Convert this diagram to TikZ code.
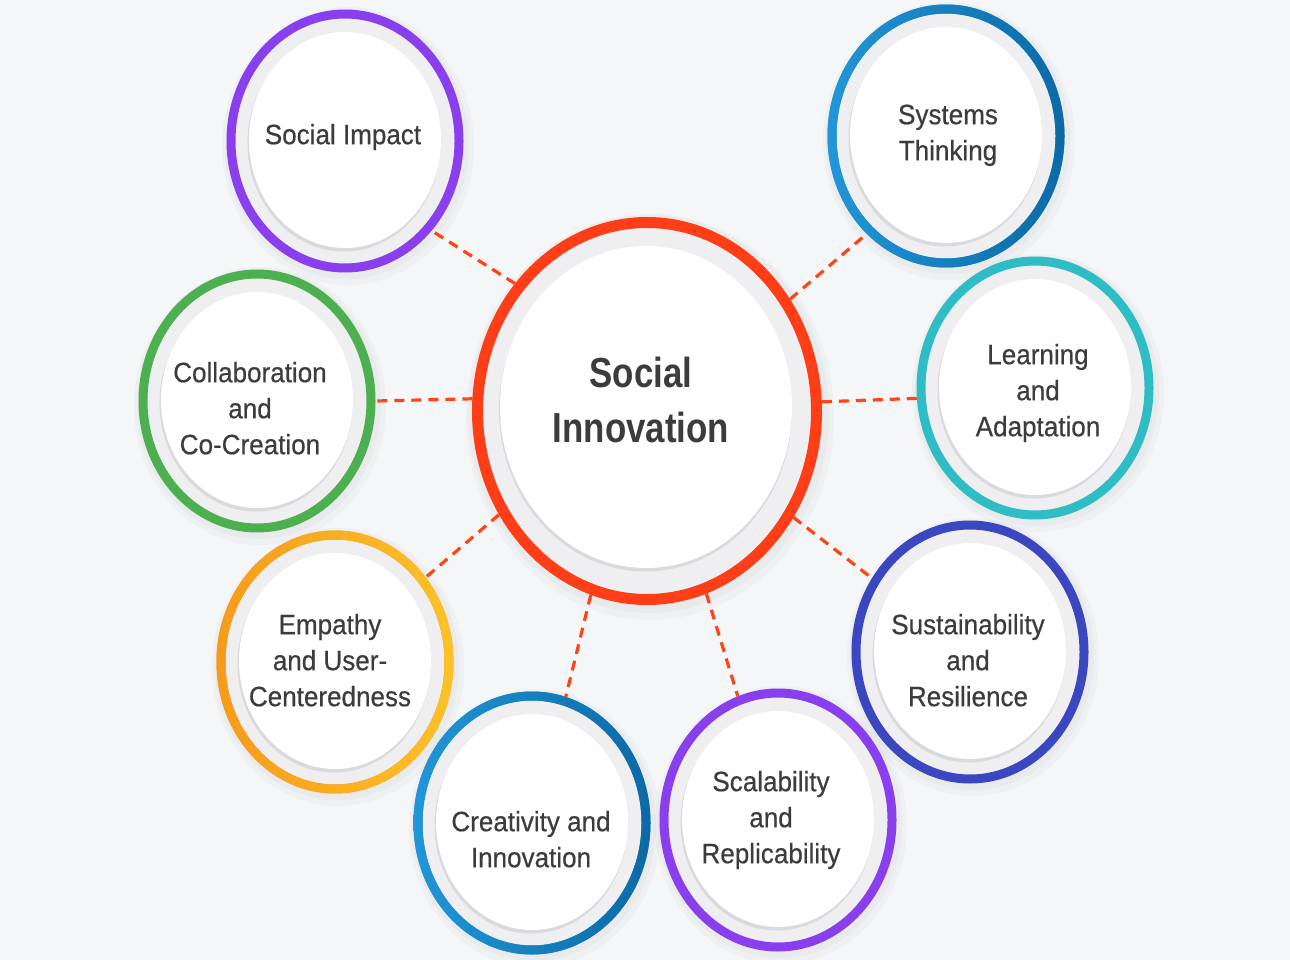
\documentclass[tikz,border=0pt]{standalone}
\usepackage{fontspec}
\setmainfont{Liberation Sans}
\newfontfamily\medfont[FakeBold=0.5]{Liberation Sans}
\usetikzlibrary{shapes.geometric}
\definecolor{bg}{HTML}{F5F6F8}
\definecolor{band}{HTML}{EFEFF2}
\definecolor{rim}{HTML}{D9DADE}
\definecolor{txt}{HTML}{3C3C3E}
\definecolor{dashc}{HTML}{FF4518}
\definecolor{cred}{HTML}{FF3D17}
\definecolor{cpurple}{HTML}{8A3FEE}
\definecolor{cblueA}{HTML}{2196D8}
\definecolor{cblueB}{HTML}{0C69A6}
\definecolor{cteal}{HTML}{2EBDC4}
\definecolor{cgreen}{HTML}{4CAF50}
\definecolor{corangeA}{HTML}{F79A1A}
\definecolor{corangeB}{HTML}{FCC228}
\definecolor{cindigo}{HTML}{3A47C1}
\newcommand{\stxt}[1]{\scalebox{0.93}[1]{\begin{tabular}{@{}c@{}}#1\end{tabular}}}
\newcommand{\htxt}[1]{\scalebox{0.83}[1]{\begin{tabular}{@{}c@{}}#1\end{tabular}}}
\tikzset{
  satring/.style={ellipse, draw=#1, line width=9pt, fill=band, minimum width=228pt, minimum height=254pt, inner sep=0pt},
  hubring/.style={ellipse, draw=cred, line width=11pt, fill=band, minimum width=339pt, minimum height=377pt, inner sep=0pt},
  link/.style={draw=dashc, line width=3.2pt, dash pattern=on 10pt off 7pt},
  lbl/.style={text=txt, font=\medfont\fontsize{28}{36}\selectfont, inner sep=0pt},
  hublbl/.style={text=txt, font=\bfseries\fontsize{42}{55}\selectfont, inner sep=0pt},
  glow/.style={fill=black, opacity=0.025},
}
\begin{document}
\begin{tikzpicture}[x=1pt,y=-1pt]
\fill[bg] (0,0) rectangle (1290,960);
\useasboundingbox (0,0) rectangle (1290,960);
% centres
\coordinate (pSI) at (345,141);
\coordinate (pST) at (946,136);
\coordinate (pCO) at (257,401);
\coordinate (pLA) at (1035,388);
\coordinate (pEM) at (335,662);
\coordinate (pSU) at (970,652);
\coordinate (pCR) at (532,823);
\coordinate (pSC) at (778,820);
\coordinate (pHUB) at (647,411);
% soft shadows
\foreach \p in {pSI,pST,pCO,pLA,pEM,pSU,pCR,pSC}{
  \fill[glow] ([xshift=3pt,yshift=-5pt]\p) ellipse[x radius=126,y radius=139];
  \fill[glow] ([xshift=2pt,yshift=-3pt]\p) ellipse[x radius=122,y radius=135];
}
\fill[glow] ([xshift=3pt,yshift=-6pt]pHUB) ellipse[x radius=184,y radius=203];
\fill[glow] ([xshift=2pt,yshift=-3pt]pHUB) ellipse[x radius=180,y radius=199];
% rings
\node[hubring] (hub) at (pHUB) {};
\node[satring=cpurple] (si) at (pSI) {};
\node[satring=cblueA] (st) at (pST) {};
\node[satring=cgreen] (co) at (pCO) {};
\node[satring=cteal] (la) at (pLA) {};
\node[satring=corangeA] (em) at (pEM) {};
\node[satring=cindigo] (su) at (pSU) {};
\node[satring=cblueA] (cr) at (pCR) {};
\node[satring=cpurple] (sc) at (pSC) {};
% gradient rings
\path[left color=cblueA, right color=cblueB, even odd rule]
  (st.center) ellipse[x radius=118.5,y radius=131.5] (st.center) ellipse[x radius=109.5,y radius=122.5];
\path[left color=cblueA, right color=cblueB, even odd rule]
  (cr.center) ellipse[x radius=118.5,y radius=131.5] (cr.center) ellipse[x radius=109.5,y radius=122.5];
\path[left color=corangeA, right color=corangeB, even odd rule]
  (em.center) ellipse[x radius=118.5,y radius=131.5] (em.center) ellipse[x radius=109.5,y radius=122.5];
% inner white disks
\foreach \n in {si,st,co,la,em,su,cr,sc}{
  \fill[rim] ([xshift=-1pt,yshift=-2pt]\n.center) ellipse[x radius=96.5,y radius=108.5];
  \fill[white] ([yshift=1pt]\n.center) ellipse[x radius=96,y radius=108];
}
\fill[rim] ([xshift=-1.5pt,yshift=1pt]hub.center) ellipse[x radius=146.5,y radius=161.5];
\fill[white] ([xshift=-1pt,yshift=4pt]hub.center) ellipse[x radius=146,y radius=161];
% connectors
\draw[link] (hub.136.9) -- (si.314.4);
\draw[link] (hub.38.6) -- (st.231.8);
\draw[link] (hub.176.6) -- (co.0);
\draw[link] (hub.3.5) -- (la.185);
\draw[link] (hub.215.6) -- (em.43.7);
\draw[link] (hub.324.6) -- (su.143.1);
\draw[link] (hub.253) -- (cr.75.3);
\draw[link] (hub.288.7) -- (sc.108.2);
% labels
\node[hublbl] (thub) at (641,404) {\htxt{Social\\Innovation}};
\node[lbl] (tsi) at (343,137) {\stxt{Social Impact}};
\node[lbl] (tst) at (948,135) {\stxt{Systems\\Thinking}};
\node[lbl] (tco) at (250,411) {\stxt{Collaboration\\and\\Co-Creation}};
\node[lbl] (tla) at (1038,393) {\stxt{Learning\\and\\Adaptation}};
\node[lbl] (tem) at (330,663) {\stxt{Empathy\\and User-\\Centeredness}};
\node[lbl] (tsu) at (968,663) {\stxt{Sustainability\\and\\Resilience}};
\node[lbl] (tcr) at (531,842) {\stxt{Creativity and\\Innovation}};
\node[lbl] (tsc) at (771,820) {\stxt{Scalability\\and\\Replicability}};
\end{tikzpicture}
\end{document}
